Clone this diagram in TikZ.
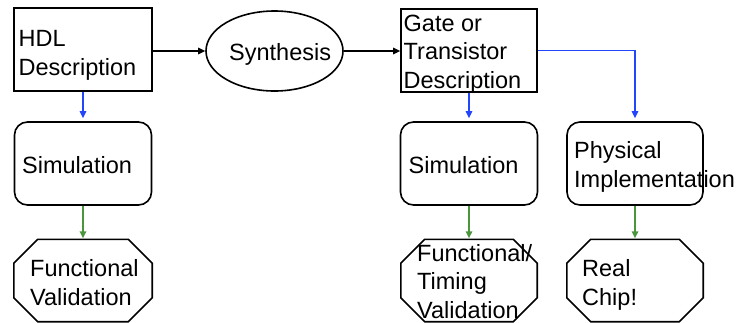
\documentclass[tikz,border=0pt]{standalone}
\usepackage{fontspec}
\setmainfont{Liberation Sans}
\usetikzlibrary{shapes.geometric,arrows.meta}
\definecolor{flowblue}{RGB}{35,70,250}
\definecolor{flowgreen}{RGB}{75,150,60}
\begin{document}
\begin{tikzpicture}[x=1pt,y=-1pt,
  lbl/.style={anchor=base west,inner sep=0pt,align=left,font=\fontsize{23.5}{28.5}\selectfont},
  sqbox/.style={draw,line width=1.6pt,rectangle,inner sep=0pt},
  rbox/.style={draw,line width=1.6pt,rectangle,rounded corners=13pt,inner sep=0pt,minimum width=137pt,minimum height=83pt},
  octarea/.style={rectangle,inner sep=0pt,minimum width=138pt,minimum height=82pt},
  octline/.style={line width=1.6pt,line join=miter},
  tip/.style={-{Triangle[length=7pt,width=6.5pt]},line width=1.5pt},
  blk/.style={tip,black},
  blu/.style={tip,flowblue},
  grn/.style={tip,flowgreen}]
\useasboundingbox (0,0) rectangle (738,322);
% shapes
\node[sqbox,minimum width=138pt,minimum height=83pt] (hdl) at (83,49.5) {};
\node[draw,line width=1.6pt,ellipse,inner sep=0pt,minimum width=137pt,minimum height=80pt] (syn) at (274.5,51) {};
\node[sqbox,minimum width=136pt,minimum height=83pt] (gate) at (469,50.5) {};
\node[rbox] (sim1) at (83,163.5) {};
\node[rbox] (sim2) at (469,163.5) {};
\node[rbox,minimum width=136pt] (phys) at (635,163.5) {};
\node[octarea] (oct1) at (83,280.5) {};
\node[octarea,minimum width=136pt] (oct2) at (469,280.5) {};
\node[octarea,minimum width=136pt] (oct3) at (635,280.5) {};
\foreach \o in {oct1,oct2,oct3}{
  \draw[octline] ([xshift=24pt]\o.north west) -- ([xshift=-24pt]\o.north east)
    -- ([yshift=-24pt]\o.north east) -- ([yshift=24pt]\o.south east)
    -- ([xshift=-24pt]\o.south east) -- ([xshift=24pt]\o.south west)
    -- ([yshift=24pt]\o.south west) -- ([yshift=-24pt]\o.north west) -- cycle;
}
% texts (base = baseline of the last line)
\node[lbl] (thdl) at (18.5,75) {HDL\\Description};
\node[lbl] (tsyn) at (229,60) {Synthesis};
\node[lbl] (tgate) at (403.5,88) {Gate or\\Transistor\\Description};
\node[lbl] (tsim1) at (22,173) {Simulation};
\node[lbl] (tsim2) at (408.5,173) {Simulation};
\node[lbl] (tphys) at (574,187) {Physical\\Implementation};
\node[lbl] (toct1) at (30,305) {Functional\\Validation};
\node[lbl] (toct2) at (417,318) {Functional/\\Timing\\Validation};
\node[lbl] (toct3) at (582,305) {Real\\Chip!};
% connectors
\draw[blk] (hdl.east |- syn.west) -- (syn.west);
\draw[blk] (syn.east) -- (gate.west |- syn.east);
\draw[blu,shorten >=3pt] (hdl.south) -- (sim1.north);
\draw[blu,shorten >=3pt] (gate.south) -- (sim2.north);
\draw[blu,shorten >=3pt] (gate.east) -| (phys.north);
\draw[grn,shorten >=1pt] (sim1.south) -- (oct1.north);
\draw[grn,shorten >=1pt] (sim2.south) -- (oct2.north);
\draw[grn,shorten >=1pt] (phys.south) -- (oct3.north);
\end{tikzpicture}
\end{document}
